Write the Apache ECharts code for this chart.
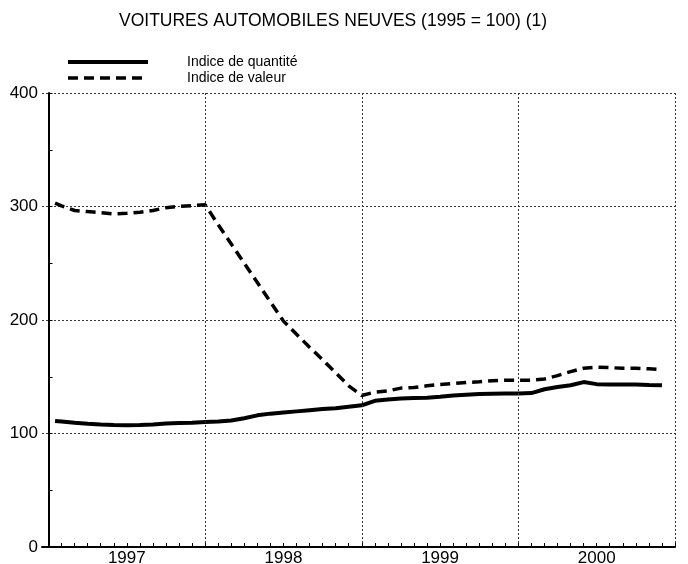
<!DOCTYPE html>
<html>
<head>
<meta charset="utf-8">
<title>Voitures automobiles neuves</title>
<script src="https://cdn.jsdelivr.net/npm/echarts@6/dist/echarts.min.js"></script>
<style>
  html, body { margin: 0; padding: 0; background: #fff; }
  #chart { width: 688px; height: 564px; }
</style>
</head>
<body>
<div id="chart"></div>
<script>
// mois depuis janv. 1997 (0 = debut 1997, 48 = fin 2000)
const months = [0.5, 1, 2, 3, 4, 5, 6, 7, 8, 9, 10, 11,
  12, 13, 14, 15, 16, 17, 18, 19, 20, 21, 22, 23,
  24, 25, 26, 27, 28, 29, 30, 31, 32, 33, 34, 35,
  36, 37, 38, 39, 40, 41, 42, 43, 44, 45, 46, 47]

// Indice de quantite
const quantite = [111, 110.5, 109.4, 108.6, 108, 107.5, 107.3, 107.5, 108, 108.8, 109.2, 109.5,
  110.2, 110.5, 111.5, 113.5, 116, 117.5, 118.5, 119.5, 120.5, 121.5, 122.2, 123.5,
  124.8, 128.8, 130, 130.8, 131.2, 131.5, 132.3, 133.5, 134.2, 134.8, 135, 135.2,
  135.3, 135.6, 139, 141, 142.5, 145.3, 143.5, 143.2, 143.2, 143.2, 142.8, 142.6]

// Indice de valeur
const valeur = [303, 300.5, 296.5, 295.5, 294.5, 293.5, 294, 295, 296.5, 299, 300.2, 300.8,
  301.5, 284, 267, 250, 233, 216, 199, 187.5, 176, 165, 153.5, 142,
  133.5, 136.5, 137.5, 140, 140.5, 142, 143.2, 144, 145, 145.5, 146.5, 147,
  147, 147, 148, 151, 154.5, 157.5, 158.5, 158, 157.5, 157.5, 157, 156.5]

const yearLabels = { 6: '1997', 18: '1998', 30: '1999', 42: '2000' }
const yearLines = [12, 24, 36, 48]

const font = '"Liberation Sans", Arial, Helvetica, sans-serif'
const gridDot = { color: '#333', width: 1, type: [2, 2] }

const option = {
  animation: false,
  backgroundColor: '#fff',
  textStyle: { fontFamily: font, color: '#000' },
  title: {
    text: 'VOITURES AUTOMOBILES NEUVES (1995 = 100) (1)',
    left: 119,
    top: 12,
    padding: 0,
    textStyle: { fontFamily: font, fontSize: 17.5, fontWeight: 'normal', color: '#000' }
  },
  legend: {
    orient: 'vertical',
    left: 66,
    top: 55,
    padding: 0,
    itemWidth: 80,
    itemHeight: 14,
    itemGap: 2,
    selectedMode: false,
    itemStyle: { opacity: 0 },
    lineStyle: { width: 'inherit', type: 'inherit' },
    data: ['Indice de quantité', 'Indice de valeur'],
    textStyle: { fontFamily: font, fontSize: 14, color: '#000', padding: [0, 0, 0, 34] }
  },
  // grille 0 : courbes ; grille 1 : graduations mensuelles (commence au 1er janv. 1997)
  grid: [
    { left: 42, right: 13, top: 93, bottom: 17, outerBoundsMode: 'none' },
    { left: 48.5, right: 13, top: 93, bottom: 17, outerBoundsMode: 'none' }
  ],
  xAxis: [
    {
      type: 'value',
      gridIndex: 0,
      min: -0.5,
      max: 48,
      axisLine: { show: true, lineStyle: { color: '#000', width: 2 } },
      axisTick: { show: false },
      splitLine: { show: false },
      axisLabel: { show: false },
      z: 2
    },
    {
      type: 'value',
      gridIndex: 1,
      min: 0,
      max: 48,
      interval: 1,
      axisLine: { show: true, lineStyle: { color: '#000', width: 1, opacity: 0 } },
      axisTick: { show: true, inside: true, length: 4, lineStyle: { color: '#000', width: 1, opacity: 1 } },
      splitLine: { show: false },
      axisLabel: {
        margin: 3,
        fontSize: 17,
        color: '#000',
        formatter: v => yearLabels[v] || ''
      },
      z: 5
    }
  ],
  yAxis: [
    {
      type: 'value',
      gridIndex: 0,
      min: 0,
      max: 400,
      interval: 100,
      axisLine: { show: true, lineStyle: { color: '#000', width: 2 } },
      axisTick: { show: true, inside: true, length: 4, lineStyle: { color: '#000' } },
      minorTick: { show: true, splitNumber: 2, length: 4, lineStyle: { color: '#000' } },
      splitLine: { show: true, lineStyle: gridDot },
      axisLabel: { margin: 4, fontSize: 17, color: '#000' }
    },
    {
      type: 'value',
      gridIndex: 1,
      min: 0,
      max: 400,
      show: false
    }
  ],
  series: [
    {
      name: 'Indice de quantité',
      type: 'line',
      xAxisIndex: 0,
      yAxisIndex: 0,
      symbol: 'none',
      color: '#000',
      lineStyle: { color: '#000', width: 4, type: 'solid' },
      data: months.map((m, i) => [m, quantite[i]]),
      markLine: {
        silent: true,
        symbol: ['none', 'none'],
        label: { show: false },
        lineStyle: gridDot,
        data: yearLines.map(x => ({ xAxis: x }))
      },
      z: 3
    },
    {
      name: 'Indice de valeur',
      type: 'line',
      xAxisIndex: 0,
      yAxisIndex: 0,
      symbol: 'none',
      color: '#000',
      lineStyle: { color: '#000', width: 3.5, type: [10, 6] },
      data: months.map((m, i) => [m, valeur[i]]),
      z: 3
    }
  ]
}

const chart = echarts.init(document.getElementById('chart'))
chart.setOption(option)
</script>
</body>
</html>
